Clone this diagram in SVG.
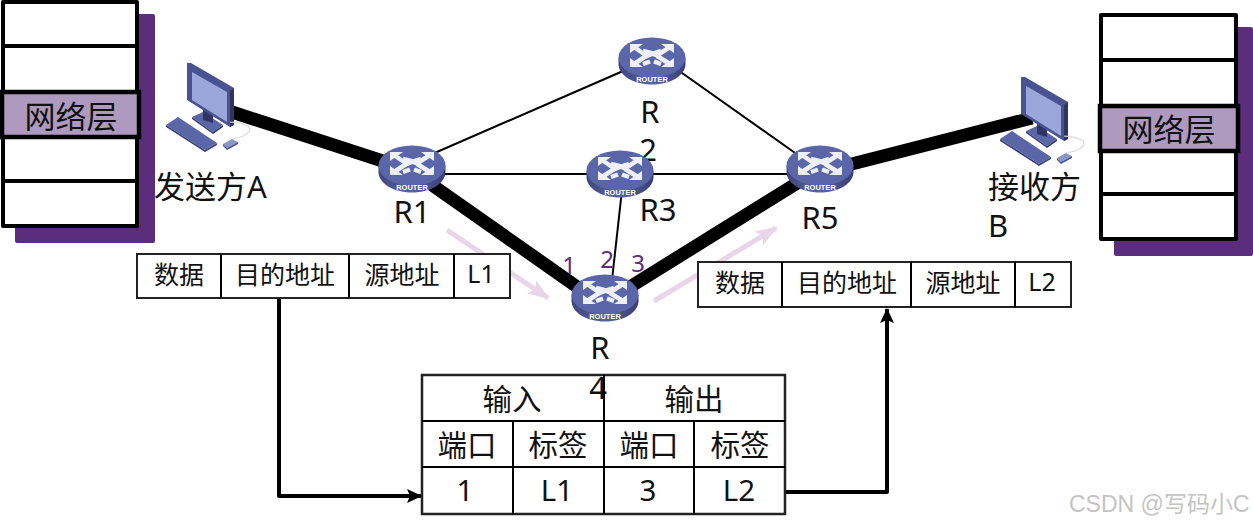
<svg xmlns="http://www.w3.org/2000/svg" width="1253" height="526" viewBox="0 0 1253 526">
<style>
text{font-family:"Noto Sans","Noto Sans CJK SC",sans-serif;fill:#111}
.m{text-anchor:middle}
.l{font-size:31px}
.t1{font-size:25px}
.t2{font-size:29.500px}
.p{font-size:24px;fill:#5c2d7c}
.w{fill:#fff;stroke:#000;stroke-width:4;stroke-linejoin:round}
.band{fill:#ae9abf;stroke:#000;stroke-width:4.5}
.sh{fill:#5c2d7c}
.tb{fill:#fff;stroke:#222;stroke-width:2}
.thin{stroke:#000;stroke-width:2;fill:none}
.thick{stroke:#000;stroke-width:13;fill:none}
.flow{stroke:#000;stroke-width:4;fill:none;stroke-linejoin:round}
.pk{stroke:#e8d5e8;stroke-width:5;fill:none;marker-end:url(#pa)}
.ra{stroke:#eef0f8;stroke-width:4.500;fill:none}
</style>
<defs>
<marker id="pa" markerUnits="userSpaceOnUse" markerWidth="24" markerHeight="20" refX="20" refY="8" orient="auto"><path d="M0 0L22 8L0 16L5 8Z" fill="#e8d5e8"/></marker>
<marker id="ka" markerUnits="userSpaceOnUse" markerWidth="18" markerHeight="16" refX="14" refY="7" orient="auto"><path d="M0 0L15 7L0 14L3 7Z" fill="#000"/></marker>
<linearGradient id="rb" x1="0" x2="1" y1="0" y2="0"><stop offset="0" stop-color="#3f4680"/><stop offset=".5" stop-color="#5c649f"/><stop offset="1" stop-color="#383e74"/></linearGradient>
<symbol id="router" viewBox="0 0 68 48" width="68" height="48" overflow="visible">
<path d="M0.500 21V27C0.500 38 15 47.500 34 47.500S67.500 38 67.500 27V21Z" fill="url(#rb)"/>
<ellipse cx="34" cy="20.500" rx="33.500" ry="20" fill="#5a66a8"/>
<path class="ra" d="M16 10L29 19L35 16.500L43 14"/>
<path class="ra" d="M52 10L39 18.500L33 16L25 14"/>
<path class="ra" d="M16 27L29 18.500M36 24.500L43 27"/>
<path class="ra" d="M52 27L39 19M32 24.500L25 27"/>
<path fill="#eef0f8" d="M12 7H25L12 16Z M56 7H43L56 16Z M12 30H25L12 21Z M56 30H43L56 21Z"/>
<text x="34" y="44.500" class="m" style="font-size:7.500px;font-weight:700;fill:#fff;font-family:'Liberation Sans',sans-serif">ROUTER</text>
</symbol>
<symbol id="pc" viewBox="0 0 86 90" width="86" height="90" overflow="visible">
<path d="M26 54L37 49L57 62L47 69Z" fill="#5a66a8"/>
<path d="M26 54L47 69V71L26 56Z" fill="#3a4177"/>
<path d="M47 69L57 62V64L47 71Z" fill="#2f3563"/>
<path d="M37 46L47 50V60L37 57Z" fill="#2f3563"/>
<path d="M21 0L25 0L68 25V62L64 64L21 37Z" fill="#4a5391"/>
<path d="M64 28L68 25V62L64 64Z" fill="#2f3563"/>
<path d="M26 9L61 29V59L26 37Z" fill="#9ca6da"/>
<path d="M0 62L12 54L51 80L39 87Z" fill="#5a66a8"/>
<path d="M0 62L39 87L51 80V82L39 89L0 64Z" fill="#3a4177"/>
<path d="M66 76C80 74 86 68 83 64C79 60 72 60 64 59" fill="none" stroke="#ddd" stroke-width="1.200"/>
<path d="M57 81L66 76L72 79L61 85Z" fill="#8b95c8"/>
<path d="M57 81L61 85L72 79V81L61 87L57 83Z" fill="#4a5391"/>
</symbol>
</defs>

<g id="connectors">
<path class="thick" d="M232 112L395 165"/>
<path class="thick" d="M425 180L590 296"/>
<path class="thick" d="M625 290L815 172"/>
<path class="thick" d="M840 167L1032 118"/>
<path class="thin" d="M430 155L630 68"/>
<path class="thin" d="M675 68L805 160"/>
<path class="thin" d="M430 174H810"/>
<path class="thin" d="M622 190L612 280"/>
<path class="pk" d="M447 230L548 298"/>
<path class="pk" d="M654 301L776 228"/>
<path class="flow" d="M279 298V496H421" marker-end="url(#ka)"/>
<path class="flow" d="M786 492H887V309" marker-end="url(#ka)"/>
</g>

<g id="stack-left">
<rect class="sh" x="15" y="14" width="140" height="229" rx="2"/>
<rect class="w" x="3" y="2" width="134" height="44"/>
<rect class="w" x="3" y="46" width="134" height="46"/>
<rect class="w" x="3" y="137" width="134" height="44"/>
<rect class="w" x="3" y="181" width="134" height="45"/>
<rect class="band" x="2" y="92" width="137" height="45"/>
<text class="l m" x="71" y="128">网络层</text>
</g>

<g id="stack-right">
<rect class="sh" x="1114" y="27" width="139" height="229" rx="2"/>
<rect class="w" x="1101" y="15" width="135" height="45"/>
<rect class="w" x="1101" y="60" width="135" height="46"/>
<rect class="w" x="1101" y="151" width="135" height="43"/>
<rect class="w" x="1101" y="194" width="135" height="45"/>
<rect class="band" x="1100" y="106" width="138" height="45"/>
<text class="l m" x="1169" y="141">网络层</text>
</g>

<g id="sender"><use href="#pc" x="166" y="63"/><text class="l" x="154" y="198">发送方A</text></g>
<g id="receiver"><use href="#pc" x="1000" y="77"/><text class="l" x="988" y="198">接收方</text><text class="l" x="988" y="237">B</text></g>

<g id="R1"><use href="#router" x="378" y="145"/><text class="l m" x="412" y="223">R1</text></g>
<g id="R2"><use href="#router" x="618" y="37"/><text class="l m" x="650" y="123">R</text><text class="l m" x="648" y="161">2</text></g>
<g id="R3"><use href="#router" x="586" y="150"/><text class="l m" x="658" y="221">R3</text></g>
<g id="R4"><use href="#router" x="571" y="274"/><text class="l m" x="600" y="359">R</text><text class="l m" x="598" y="399">4</text></g>
<g id="R5"><use href="#router" x="786" y="145"/><text class="l m" x="820" y="229">R5</text></g>

<g id="ports"><text class="p m" x="569" y="274">1</text><text class="p m" x="607" y="268">2</text><text class="p m" x="638" y="272">3</text></g>

<g id="packet-in">
<rect class="tb" x="137" y="254" width="373" height="44"/>
<path class="thin" d="M221 254V298M349 254V298M454 254V298"/>
<text class="t1 m" x="179" y="284">数据</text><text class="t1 m" x="285" y="284">目的地址</text><text class="t1 m" x="402" y="284">源地址</text><text class="t1 m" x="481" y="283">L1</text>
</g>
<g id="packet-out">
<rect class="tb" x="698" y="262" width="373" height="45"/>
<path class="thin" d="M782 262V307M911 262V307M1015 262V307"/>
<text class="t1 m" x="740" y="292">数据</text><text class="t1 m" x="847" y="292">目的地址</text><text class="t1 m" x="963" y="292">源地址</text><text class="t1 m" x="1042" y="291">L2</text>
</g>

<g id="label-table">
<rect x="422" y="375" width="363" height="139" fill="none" stroke="#222" stroke-width="2.500"/>
<path class="thin" d="M422 421H785M422 467H785M604 375V514M513 421V514M694 421V514"/>
<text class="t2 m" x="512" y="410">输入</text><text class="t2 m" x="694" y="410">输出</text>
<text class="t2 m" x="467" y="456">端口</text><text class="t2 m" x="558" y="456">标签</text><text class="t2 m" x="649" y="456">端口</text><text class="t2 m" x="740" y="456">标签</text>
<text class="t2 m" x="465" y="501">1</text><text class="t2 m" x="557" y="501">L1</text><text class="t2 m" x="648" y="501">3</text><text class="t2 m" x="739" y="501">L2</text>
</g>
<text x="1069" y="512" style="font-size:23px;fill:#c4c4c4;font-family:'Liberation Sans','Noto Sans CJK SC',sans-serif">CSDN @写码小C</text>
</svg>
